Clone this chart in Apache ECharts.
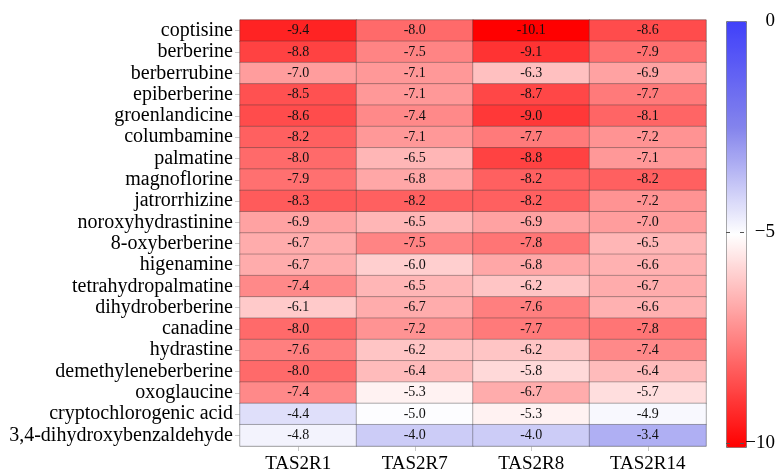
<!DOCTYPE html>
<html>
<head>
<meta charset="utf-8">
<script src="https://cdn.jsdelivr.net/npm/echarts@6/dist/echarts.min.js"></script>
<style>
  html, body { margin: 0; padding: 0; background: #fff; }
  #chart { width: 778px; height: 474px; }
</style>
</head>
<body>
<div id="chart"></div>
<script>
// Receptors (columns) and compounds (rows, top to bottom)
const receptors = ['TAS2R1', 'TAS2R7', 'TAS2R8', 'TAS2R14'];
const compounds = [
  'coptisine', 'berberine', 'berberrubine', 'epiberberine', 'groenlandicine',
  'columbamine', 'palmatine', 'magnoflorine', 'jatrorrhizine', 'noroxyhydrastinine',
  '8-oxyberberine', 'higenamine', 'tetrahydropalmatine', 'dihydroberberine', 'canadine',
  'hydrastine', 'demethyleneberberine', 'oxoglaucine', 'cryptochlorogenic acid',
  '3,4-dihydroxybenzaldehyde'
];

// Docking scores per receptor, one entry per compound in the order above
const scoresTAS2R1 = [-9.4, -8.8, -7.0, -8.5, -8.6, -8.2, -8.0, -7.9, -8.3, -6.9,
                      -6.7, -6.7, -7.4, -6.1, -8.0, -7.6, -8.0, -7.4, -4.4, -4.8];
const scoresTAS2R7 = [-8.0, -7.5, -7.1, -7.1, -7.4, -7.1, -6.5, -6.8, -8.2, -6.5,
                      -7.5, -6.0, -6.5, -6.7, -7.2, -6.2, -6.4, -5.3, -5.0, -4.0];
const scoresTAS2R8 = [-10.1, -9.1, -6.3, -8.7, -9.0, -7.7, -8.8, -8.2, -8.2, -6.9,
                      -7.8, -6.8, -6.2, -7.6, -7.7, -6.2, -5.8, -6.7, -5.3, -4.0];
const scoresTAS2R14 = [-8.6, -7.9, -6.9, -7.7, -8.1, -7.2, -7.1, -8.2, -7.2, -7.0,
                       -6.5, -6.6, -6.7, -6.6, -7.8, -7.4, -6.4, -5.7, -4.9, -3.4];

// Colour scale range and colour-bar tick labels
const scaleMin = -10.1;
const scaleMax = 0;
const colorbarTicks = [0, -5, -10];

const columns = [scoresTAS2R1, scoresTAS2R7, scoresTAS2R8, scoresTAS2R14];
const cells = [];
columns.forEach((col, xi) => {
  col.forEach((v, yi) => cells.push([xi, yi, v]));
});

const serif = "'Liberation Serif', 'Times New Roman', serif";

// Axis used to put ticks and labels along the colour bar
function colorbarAxis(position, withLabels) {
  return {
    type: 'value', gridIndex: 1, position: position, min: scaleMin, max: scaleMax, z: 10,
    axisLine: { show: false, onZero: false },
    axisTick: { show: true, inside: true, length: 4, customValues: colorbarTicks.slice(1),
                lineStyle: { color: '#555', width: 1 } },
    axisLabel: withLabels ? {
      customValues: colorbarTicks, fontFamily: serif, fontSize: 19, color: '#000',
      align: 'right', margin: 31,
      formatter: v => String(v).replace('-', '\u2212')
    } : { show: false },
    splitLine: { show: false }
  };
}

const chart = echarts.init(document.getElementById('chart'));
chart.setOption({
  animation: false,
  backgroundColor: '#fff',
  grid: [
    { left: 240, top: 20, width: 466, height: 427, show: true,
      borderColor: '#d4d4d4', borderWidth: 1, backgroundColor: 'transparent' },
    { left: 726, top: 21, width: 20, height: 426 }
  ],
  xAxis: [
    {
      type: 'category', gridIndex: 0, data: receptors,
      axisLine: { show: true, lineStyle: { color: '#d4d4d4' } },
      axisTick: { show: true, alignWithLabel: true, interval: 0, length: 5,
                  lineStyle: { color: '#c8c8c8' } },
      axisLabel: { fontFamily: serif, fontSize: 19, color: '#000', margin: 9, interval: 0 },
      splitLine: { show: false }
    },
    { type: 'category', gridIndex: 1, data: [''], show: false }
  ],
  yAxis: [
    {
      type: 'category', gridIndex: 0, data: compounds, inverse: true,
      axisLine: { show: true, lineStyle: { color: '#d4d4d4' } },
      axisTick: { show: true, alignWithLabel: true, interval: 0, length: 5,
                  lineStyle: { color: '#c8c8c8' } },
      axisLabel: { fontFamily: serif, fontSize: 20, color: '#000', margin: 7, interval: 0 },
      splitLine: { show: false }
    },
    colorbarAxis('right', true),
    colorbarAxis('left', false)
  ],
  visualMap: {
    type: 'continuous', seriesIndex: 0, z: 2,
    min: scaleMin, max: scaleMax, calculable: false, text: null, showLabel: false,
    orient: 'vertical', left: 726, top: 21, itemWidth: 20, itemHeight: 426,
    padding: 0, borderColor: '#777', borderWidth: 1,
    // red -> white (at the centre) -> blue diverging scale
    inRange: { color: ['#ff0000', '#ff8080', '#ffffff', '#8484ec', '#4040fa'] }
  },
  series: [{
    type: 'heatmap', xAxisIndex: 0, yAxisIndex: 0, data: cells,
    itemStyle: { borderColor: 'rgba(50,50,50,0.35)', borderWidth: 1 },
    label: {
      show: true, fontFamily: serif, fontSize: 14, color: '#111',
      formatter: p => p.value[2].toFixed(1)
    },
    emphasis: { disabled: true }
  }]
});
</script>
</body>
</html>
